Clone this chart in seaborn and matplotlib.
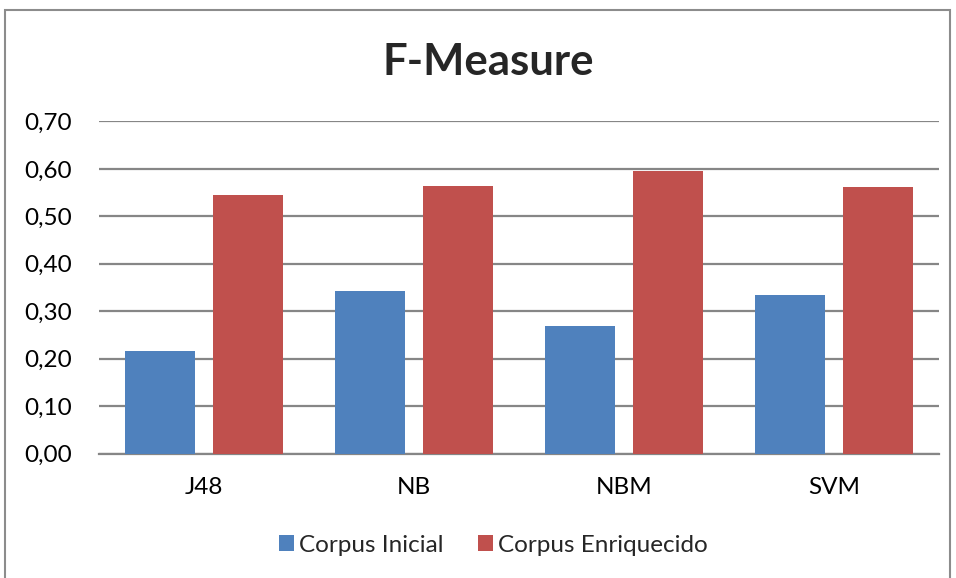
import matplotlib
matplotlib.use("Agg")
import matplotlib.pyplot as plt
import seaborn as sns
import pandas as pd
from matplotlib.patches import Rectangle, Patch

# Data
classifiers = ["J48", "NB", "NBM", "SVM"]
corpus_inicial = [0.217, 0.343, 0.270, 0.334]
corpus_enriquecido = [0.544, 0.563, 0.595, 0.562]
series_names = ["Corpus Inicial", "Corpus Enriquecido"]
y_ticks = [0.0, 0.1, 0.2, 0.3, 0.4, 0.5, 0.6, 0.7]
y_tick_labels = ["0,00", "0,10", "0,20", "0,30", "0,40", "0,50", "0,60", "0,70"]
title = "F-Measure"

df = pd.DataFrame({
    "Clasificador": classifiers * 2,
    "Serie": [series_names[0]] * 4 + [series_names[1]] * 4,
    "Valor": corpus_inicial + corpus_enriquecido,
})

sns.set_theme(style="white")
plt.rcParams["font.family"] = ["Lato", "DejaVu Sans"]

colors = ["#4F81BD", "#C0504D"]
grid_col = "#868686"
label_size = 17.5

fig = plt.figure(figsize=(9.56, 5.78), dpi=100)
ax = fig.add_axes([0.1032, 0.215, 0.8794, 0.575])

sns.barplot(data=df, x="Clasificador", y="Valor", hue="Serie",
            palette=colors, saturation=1, width=0.838, gap=0.205, ax=ax,
            edgecolor="none", linewidth=0, legend=False, zorder=3)

ax.set_ylim(0, 0.7)
ax.set_xlim(-0.5, 3.5)
ax.set_yticks(y_ticks)
ax.set_yticklabels(y_tick_labels)
ax.yaxis.grid(True, color=grid_col, linewidth=1.6, zorder=0)
ax.set_axisbelow(True)
ax.set_xlabel("")
ax.set_ylabel("")
for side in ["left", "right", "top"]:
    ax.spines[side].set_visible(False)
ax.spines["bottom"].set_color(grid_col)
ax.spines["bottom"].set_linewidth(1.6)
ax.tick_params(axis="both", length=0, labelsize=label_size, colors="black")
ax.tick_params(axis="y", pad=19)
ax.tick_params(axis="x", pad=17)

fig.text(0.511, 0.893, title, ha="center", va="center",
         fontsize=31.5, fontweight="bold")

handles = [Patch(facecolor=c, edgecolor="none") for c in colors]
fig.legend(handles, series_names, loc="center", bbox_to_anchor=(0.516, 0.057),
           ncol=2, frameon=False, fontsize=label_size, handlelength=0.6,
           handleheight=0.6, handletextpad=0.2, columnspacing=1.45)

# Chart-area border
fig.patches.append(Rectangle((4.5 / 956, -0.05), (949.5 - 4.5) / 956,
                             1.05 - 9.5 / 578, transform=fig.transFigure,
                             fill=False, edgecolor="#8C8C8C", linewidth=1.5))

fig.savefig("out.png", dpi=100)
